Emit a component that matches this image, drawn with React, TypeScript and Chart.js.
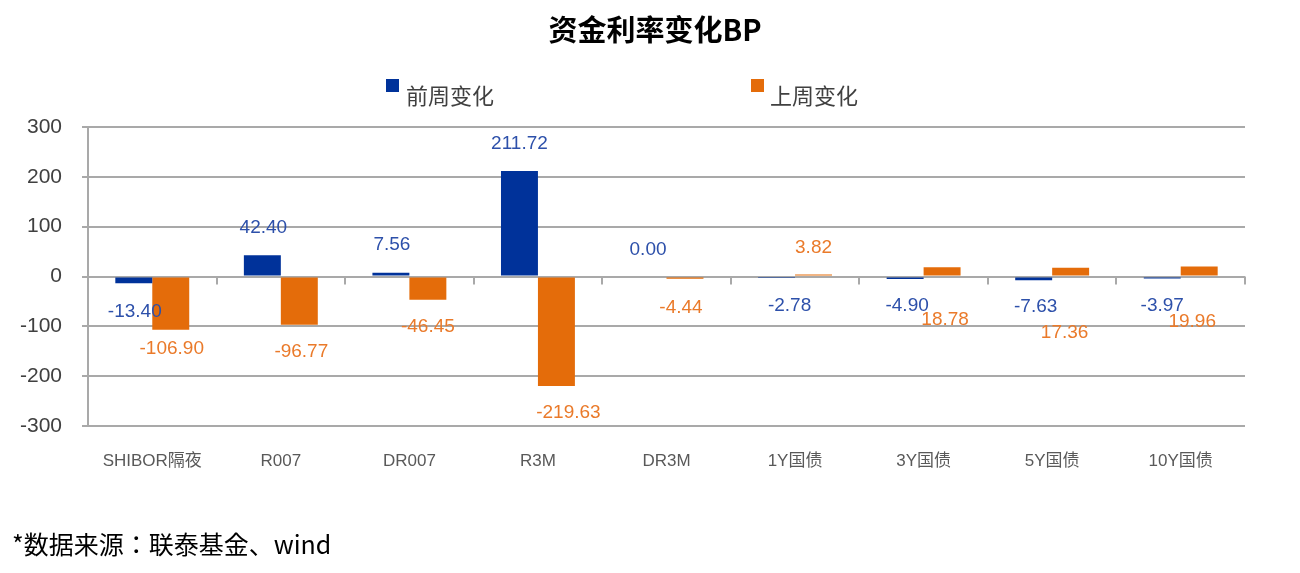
import React, { useEffect, useRef } from "react";
import { Chart, registerables } from "chart.js";

Chart.register(...registerables);

const categories = ["SHIBOR隔夜", "R007", "DR007", "R3M", "DR3M", "1Y国债", "3Y国债", "5Y国债", "10Y国债"];
const seriesNames = ["前周变化", "上周变化"];
const prevWeek = [-13.4, 42.4, 7.56, 211.72, 0.0, -2.78, -4.9, -7.63, -3.97];
const lastWeek = [-106.9, -96.77, -46.45, -219.63, -4.44, 3.82, 18.78, 17.36, 19.96];
const yTicks = [-300, -200, -100, 0, 100, 200, 300];

// extra label shifts (px) beyond the default outside-end placement
const prevLabelShiftX = [1, 1, 1, 0, 0, 13, 2, 2, 0];
const prevLabelShiftY = [2, -1, -1, 0, 0, 1, 0, -1, 0];
const lastLabelShiftX = [1, 2, 0, 12, -4, 0, 3, -6, -7];
const lastLabelShiftY = [-8, 0, 0, 0, 2, 0, 80, 92, 82];

const BLUE = "#00329a";
const ORANGE = "#e46c0a";
const BLUE_TEXT = "#2d50aa";
const ORANGE_TEXT = "#ea7a2a";
const GRID = "#a9a9a9";

const labelPlugin = {
  id: "barLabels",
  afterDatasetsDraw(chart: any) {
    const ctx = chart.ctx;
    const shifts = [
      [prevLabelShiftX, prevLabelShiftY, BLUE_TEXT],
      [lastLabelShiftX, lastLabelShiftY, ORANGE_TEXT],
    ] as any[];
    ctx.save();
    ctx.font = "19px 'Liberation Sans', Arial, sans-serif";
    ctx.textAlign = "center";
    ctx.textBaseline = "middle";
    chart.data.datasets.forEach((ds: any, di: number) => {
      const meta = chart.getDatasetMeta(di);
      const [sx, sy, color] = shifts[di];
      ctx.fillStyle = color;
      meta.data.forEach((el: any, i: number) => {
        const v = ds.data[i] as number;
        const dy = v >= 0 ? -27 : 27;
        ctx.fillText(v.toFixed(2), el.x + sx[i], el.y + dy + sy[i]);
      });
    });
    ctx.restore();
  },
};

const zeroTickPlugin = {
  id: "zeroTicks",
  afterDatasetsDraw(chart: any) {
    const ctx = chart.ctx;
    const x = chart.scales.x;
    const y = chart.scales.y;
    const y0 = y.getPixelForValue(0);
    const n = chart.data.labels.length;
    ctx.save();
    ctx.strokeStyle = GRID;
    ctx.lineWidth = 2;
    for (let k = 1; k <= n; k++) {
      const px = Math.round(x.left + (k * x.width) / n);
      ctx.beginPath();
      ctx.moveTo(px, y0);
      ctx.lineTo(px, y0 + 8);
      ctx.stroke();
    }
    ctx.restore();
  },
};

export default function App() {
  const ref = useRef<HTMLCanvasElement>(null);
  useEffect(() => {
    document.body.style.margin = "0";
    const chart = new Chart(ref.current!, {
      type: "bar",
      data: {
        labels: categories,
        datasets: [
          { label: seriesNames[0], data: prevWeek, backgroundColor: BLUE, categoryPercentage: 0.575, barPercentage: 1.0 },
          { label: seriesNames[1], data: lastWeek, backgroundColor: ORANGE, categoryPercentage: 0.575, barPercentage: 1.0 },
        ],
      },
      options: {
        animation: false,
        responsive: false,
        devicePixelRatio: 1,
        layout: { padding: { top: 127, right: 55, left: 0, bottom: 0 } },
        plugins: { legend: { display: false }, title: { display: false }, tooltip: { enabled: false } },
        scales: {
          x: {
            grid: { display: false, drawTicks: false },
            border: { display: false },
            ticks: {
              color: "#595959",
              padding: 25,
              maxRotation: 0,
              autoSkip: false,
              font: { size: 17, family: "'Liberation Sans', 'Noto Sans CJK SC', sans-serif" },
            },
            afterFit(scale: any) {
              scale.height = 147;
            },
          },
          y: {
            min: -300,
            max: 300,
            afterBuildTicks(scale: any) {
              scale.ticks = yTicks.map((v) => ({ value: v }));
            },
            grid: { color: GRID, lineWidth: 2, tickLength: 6, drawTicks: true },
            border: { display: true, color: GRID, width: 2 },
            ticks: {
              color: "#404040",
              padding: 20,
              font: { size: 21, family: "'Liberation Sans', Arial, sans-serif" },
            },
            afterFit(scale: any) {
              scale.width = 88;
            },
          },
        },
      },
      plugins: [zeroTickPlugin, labelPlugin],
    });
    return () => chart.destroy();
  }, []);

  const legendText: React.CSSProperties = {
    position: "absolute",
    fontFamily: "'Noto Sans CJK SC', sans-serif",
    fontSize: 22,
    color: "#404040",
    lineHeight: "28px",
    top: 80,
  };
  return (
    <div style={{ position: "absolute", left: 0, top: 0, width: 1300, height: 573, background: "#fff", overflow: "hidden" }}>
      <canvas ref={ref} width={1300} height={573} style={{ position: "absolute", left: 0, top: 0 }} />
      <div
        style={{
          position: "absolute",
          left: 0,
          width: 1310,
          top: 8,
          textAlign: "center",
          fontFamily: "'Noto Sans CJK SC', sans-serif",
          fontWeight: 700,
          fontSize: 29,
          lineHeight: "40px",
          color: "#000",
        }}
      >
        资金利率变化BP
      </div>
      <div style={{ position: "absolute", left: 386, top: 79, width: 13, height: 13, background: BLUE }} />
      <div style={{ ...legendText, left: 406 }}>{seriesNames[0]}</div>
      <div style={{ position: "absolute", left: 751, top: 79, width: 13, height: 13, background: ORANGE }} />
      <div style={{ ...legendText, left: 770 }}>{seriesNames[1]}</div>
      <div
        style={{
          position: "absolute",
          left: 12,
          top: 527,
          fontFamily: "'Noto Sans CJK JP', sans-serif",
          fontSize: 25,
          lineHeight: "32px",
          color: "#000",
        }}
      >
        *数据来源：联泰基金、wind
      </div>
    </div>
  );
}
